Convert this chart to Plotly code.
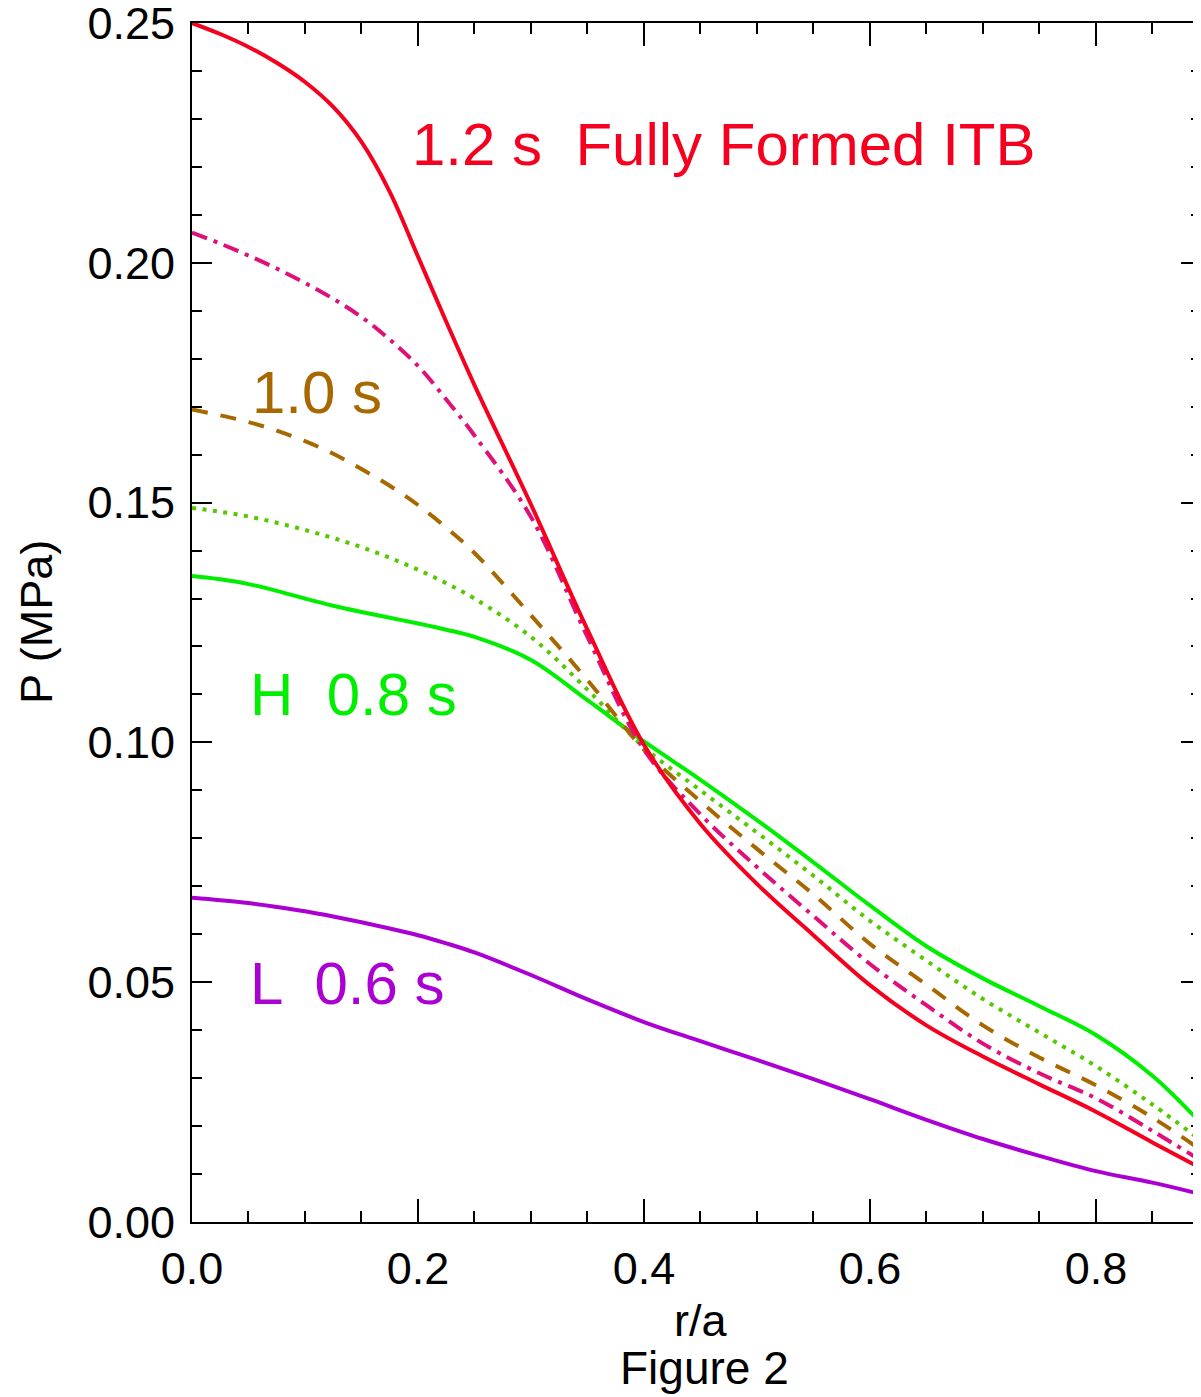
import plotly.graph_objects as go

# r/a sample positions
r = [0.0, 0.025, 0.05, 0.075, 0.1, 0.125, 0.15, 0.175, 0.2, 0.225, 0.25, 0.3, 0.35, 0.4,
     0.45, 0.5, 0.55, 0.6, 0.65, 0.7, 0.75, 0.8, 0.85, 0.893]

p_12 = [0.2500, 0.2477, 0.2450, 0.2417, 0.2377, 0.2325, 0.2252, 0.2148, 0.2013, 0.1877,
        0.1745, 0.1496, 0.1235, 0.0995, 0.0830, 0.0705, 0.0598, 0.0494, 0.0410, 0.0345,
        0.0287, 0.0230, 0.0166, 0.0112]
p_11 = [0.2063, 0.2040, 0.2015, 0.1988, 0.1958, 0.1925, 0.1887, 0.1840, 0.1785, 0.1715,
        0.1640, 0.1470, 0.1220, 0.0985, 0.0850, 0.0740, 0.0638, 0.0538, 0.0452, 0.0372,
        0.0310, 0.0258, 0.0190, 0.0128]
p_10 = [0.1694, 0.1682, 0.1668, 0.1650, 0.1628, 0.1602, 0.1570, 0.1535, 0.1495, 0.1448,
        0.1395, 0.1265, 0.1130, 0.0985, 0.0877, 0.0778, 0.0683, 0.0580, 0.0495, 0.0410,
        0.0343, 0.0285, 0.0218, 0.0150]
p_09 = [0.1489, 0.1481, 0.1471, 0.1458, 0.1443, 0.1426, 0.1407, 0.1385, 0.1360, 0.1332,
        0.1300, 0.1220, 0.1110, 0.0990, 0.0900, 0.0812, 0.0722, 0.0628, 0.0545, 0.0465,
        0.0395, 0.0325, 0.0245, 0.0170]
p_08 = [0.1347, 0.1340, 0.1330, 0.1316, 0.1300, 0.1285, 0.1272, 0.1260, 0.1248, 0.1235,
        0.1220, 0.1172, 0.1088, 0.1002, 0.0922, 0.0838, 0.0750, 0.0660, 0.0575, 0.0508,
        0.0450, 0.0390, 0.0305, 0.0206]
p_06 = [0.0676, 0.0671, 0.0665, 0.0657, 0.0648, 0.0637, 0.0625, 0.0612, 0.0598, 0.0581,
        0.0562, 0.0515, 0.0464, 0.0417, 0.0377, 0.0338, 0.0298, 0.0256, 0.0213, 0.0173,
        0.0138, 0.0106, 0.0082, 0.0058]

series = [
    (p_06, "#AA00D4", "solid"),
    (p_08, "#00EE00", "solid"),
    (p_09, "#55C800", "4px,6.5px"),
    (p_10, "#A86800", "16px,13px"),
    (p_11, "#E0107A", "16px,7px,4px,7px"),
    (p_12, "#F5001E", "solid"),
]

labels = [
    ("1.2 s  Fully Formed ITB", 0.193, 0.2247, "#F5001E"),
    ("1.0 s", 0.0516, 0.1729, "#A86800"),
    ("H  0.8 s", 0.0499, 0.1099, "#00EE00"),
    ("L  0.6 s", 0.0499, 0.0498, "#AA00D4"),
]

FONT = "Liberation Sans, Arial, Helvetica, sans-serif"

# the page body adds an 8px offset; compensate
OFF = 8
W, H = 1201 - OFF, 1397 - OFF
L, R, T = 192 - OFF, 0, 23 - OFF
plot_bottom = 1222 - OFF
B = H - plot_bottom
pw, ph = W - L - R, H - T - B

fig = go.Figure()
for ys, col, dash in series:
    fig.add_trace(go.Scatter(x=r, y=ys, mode="lines",
                             line=dict(color=col, width=4, dash=dash, shape="spline", smoothing=1.0),
                             showlegend=False, hoverinfo="skip"))

for txt, x, y, col in labels:
    fig.add_annotation(x=x, y=y, xref="x", yref="y", text=txt, showarrow=False,
                       xanchor="left", yanchor="middle",
                       font=dict(family=FONT, size=60, color=col))

fig.update_layout(
    width=W, height=H,
    margin=dict(l=L, r=R, t=T, b=B, autoexpand=False),
    paper_bgcolor="white", plot_bgcolor="white",
    font=dict(family=FONT, size=45, color="black"),
)

fig.update_xaxes(range=[0, 0.893], showgrid=False, zeroline=False, automargin=False,
                 showline=True, linecolor="black", linewidth=2, mirror="ticks",
                 ticks="inside", ticklen=23, tickwidth=2, tickcolor="black",
                 tickvals=[0.0, 0.2, 0.4, 0.6, 0.8], ticktext=["0.0", "0.2", "0.4", "0.6", "0.8"],
                 tickfont=dict(family=FONT, size=45),
                 minor=dict(dtick=0.05, tick0=0, ticks="inside", ticklen=11, tickwidth=2, tickcolor="black"),
                 ticklabelstandoff=6)
fig.update_yaxes(range=[0, 0.25], showgrid=False, zeroline=False, automargin=False,
                 showline=True, linecolor="black", linewidth=2, mirror="ticks",
                 ticks="inside", ticklen=20, tickwidth=2, tickcolor="black",
                 tickvals=[0.0, 0.05, 0.10, 0.15, 0.20, 0.2499999],
                 ticktext=["0.00", "0.05", "0.10", "0.15", "0.20", "0.25"],
                 tickfont=dict(family=FONT, size=45),
                 minor=dict(dtick=0.01, tick0=0, ticks="inside", ticklen=10, tickwidth=2, tickcolor="black"),
                 ticklabelstandoff=6, ticklabeloverflow="allow")

# axis titles as paper-positioned annotations (positions given in window pixels)
def px_x(xw):
    return (xw - OFF - L) / pw

def px_y(yw):
    return (plot_bottom - (yw - OFF)) / ph

fig.add_annotation(x=px_x(700), y=px_y(1320), xref="paper", yref="paper",
                   text="r/a", showarrow=False, yanchor="middle",
                   font=dict(family=FONT, size=45, color="black"))
fig.add_annotation(x=px_x(704), y=px_y(1368), xref="paper", yref="paper",
                   text="Figure 2", showarrow=False, yanchor="middle",
                   font=dict(family=FONT, size=46, color="black"))
fig.add_annotation(x=px_x(36), y=px_y(622), xref="paper", yref="paper",
                   text="P (MPa)", showarrow=False, textangle=-90, xanchor="center", yanchor="middle",
                   font=dict(family=FONT, size=45, color="black"))

fig.write_html("out.html")
